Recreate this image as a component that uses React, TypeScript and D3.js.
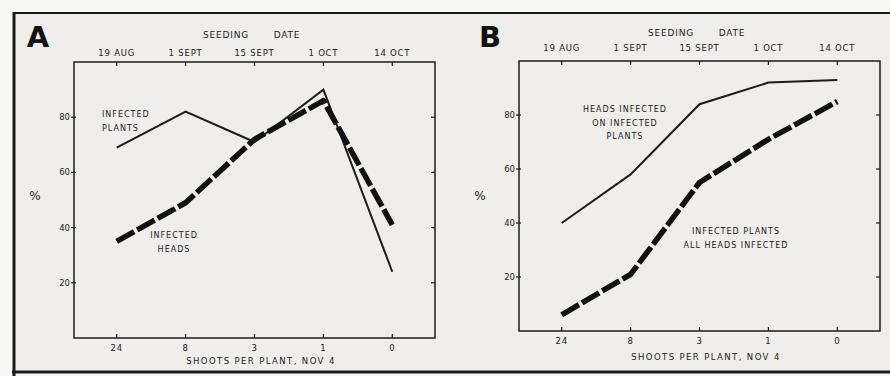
import React from "react";
import * as d3 from "d3";

const shoots = ["24", "8", "3", "1", "0"];
const seedingDates = ["19 AUG", "1 SEPT", "15 SEPT", "1 OCT", "14 OCT"];
const yTicks = [20, 40, 60, 80];
const aInfectedPlants = [69, 82, 71, 90, 24];
const aInfectedHeads = [35, 49, 72, 86, 41];
const bHeadsOnInfected = [40, 58, 84, 92, 93];
const bAllHeadsInfected = [6, 21, 55, 71, 85];

const INK = "#1c1c1c";
const FONT = "'DejaVu Sans', 'Liberation Sans', sans-serif";

type Label = { lines: string[]; x: number; y: number; anchor: string };

type PanelProps = {
  letter: string;
  letterX: number;
  x0: number;
  x1: number;
  yTop: number;
  yBot: number;
  solid: number[];
  dashed: number[];
  labels: Label[];
  tickOff: number;
  titleOff: number;
  dateY: number;
  seedY: number;
};

function Panel(p: PanelProps) {
  const x = d3.scalePoint<string>().domain(shoots).range([p.x0, p.x1]).padding(0.62);
  const y = d3.scaleLinear().domain([0, 100]).range([p.yBot, p.yTop]);
  const line = d3
    .line<number>()
    .x((_, i) => x(shoots[i]) as number)
    .y((d) => y(d));
  const small = { fontFamily: FONT, fontSize: 8.5, fill: INK, letterSpacing: 0.8 } as any;
  return (
    <g>
      <text x={p.letterX} y={47} fontFamily={FONT} fontWeight="bold" fontSize={29} fill="#111" textAnchor="middle">
        {p.letter}
      </text>
      <text x={p.x0 + 152} y={p.seedY} {...small} fontSize={9} textAnchor="middle">SEEDING</text>
      <text x={p.x0 + 213} y={p.seedY} {...small} fontSize={9} textAnchor="middle">DATE</text>
      {seedingDates.map((d, i) => (
        <text key={d} x={x(shoots[i])} y={p.dateY} {...small} textAnchor="middle">{d}</text>
      ))}
      <rect x={p.x0} y={p.yTop} width={p.x1 - p.x0} height={p.yBot - p.yTop} fill="none" stroke={INK} strokeWidth={1.5} />
      {shoots.map((s) => (
        <g key={s}>
          <line x1={x(s)} x2={x(s)} y1={p.yTop} y2={p.yTop + 4} stroke={INK} strokeWidth={1.2} />
          <line x1={x(s)} x2={x(s)} y1={p.yBot} y2={p.yBot - 4} stroke={INK} strokeWidth={1.2} />
          <text x={x(s)} y={p.yBot + p.tickOff} {...small} textAnchor="middle">{s}</text>
        </g>
      ))}
      {yTicks.map((t) => (
        <g key={t}>
          <line x1={p.x0 - 3} x2={p.x0 + 2} y1={y(t)} y2={y(t)} stroke={INK} strokeWidth={1.2} />
          <line x1={p.x1} x2={p.x1 - 4} y1={y(t)} y2={y(t)} stroke={INK} strokeWidth={1.2} />
          <text x={p.x0 - 4} y={y(t) + 3} {...small} letterSpacing={0} textAnchor="end">{t}</text>
        </g>
      ))}
      <text x={p.x0 - 39} y={200} fontFamily={FONT} fontSize={12} fill={INK} textAnchor="middle">%</text>
      <text x={p.x0 + 187} y={p.yBot + p.titleOff} {...small} letterSpacing={1.4} textAnchor="middle">
        SHOOTS PER PLANT, NOV 4
      </text>
      <path d={line(p.solid) as string} fill="none" stroke={INK} strokeWidth={2} strokeLinejoin="miter" />
      <path d={line(p.dashed) as string} fill="none" stroke="#111" strokeWidth={5.5} strokeDasharray="20,3.5" strokeLinejoin="round" />
      {p.labels.map((l, i) =>
        l.lines.map((t, j) => (
          <text key={i + "-" + j} x={l.x} y={l.y + j * 13.5} {...small} fontSize={8} letterSpacing={1} textAnchor={l.anchor}>
            {t}
          </text>
        ))
      )}
    </g>
  );
}

export default function App() {
  return (
    <svg width={890} height={376} style={{ position: "fixed", left: 0, top: 0 }}>
      <rect x={0} y={0} width={890} height={376} fill="#f7f7f4" />
      <rect x={14} y={13} width={880} height={359} fill="#efeeea" />
      <line x1={14} x2={890} y1={13} y2={13} stroke={INK} strokeWidth={2.2} />
      <line x1={14} x2={14} y1={12} y2={376} stroke={INK} strokeWidth={3} />
      <line x1={12} x2={890} y1={372} y2={372} stroke={INK} strokeWidth={3} />
      <Panel
        letter="A"
        letterX={38}
        x0={74}
        x1={435}
        yTop={62}
        yBot={338}
        solid={aInfectedPlants}
        dashed={aInfectedHeads}
        tickOff={13}
        titleOff={26}
        dateY={56}
        seedY={38}
        labels={[
          { lines: ["INFECTED", "PLANTS"], x: 102, y: 117, anchor: "start" },
          { lines: ["INFECTED", "HEADS"], x: 174, y: 238, anchor: "middle" },
        ]}
      />
      <Panel
        letter="B"
        letterX={490}
        x0={519}
        x1={880}
        yTop={61}
        yBot={331}
        solid={bHeadsOnInfected}
        dashed={bAllHeadsInfected}
        tickOff={13}
        titleOff={29}
        dateY={51}
        seedY={36}
        labels={[
          { lines: ["HEADS INFECTED", "ON INFECTED", "PLANTS"], x: 625, y: 112, anchor: "middle" },
          { lines: ["INFECTED PLANTS", "ALL HEADS INFECTED"], x: 736, y: 234, anchor: "middle" },
        ]}
      />
    </svg>
  );
}
